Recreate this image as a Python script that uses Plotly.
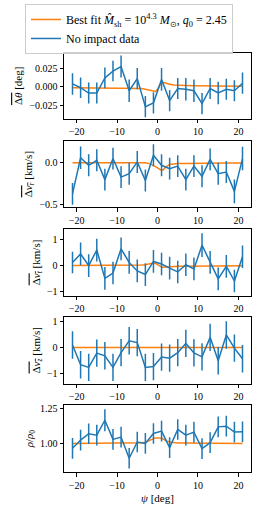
import plotly.graph_objects as go

# ---------------- data ----------------
psi = [-21, -19, -17, -15, -13, -11, -9, -7, -5, -3, -1, 1, 3, 5, 7, 9, 11, 13, 15, 17, 19, 21]

dtheta = [0.004, -0.001, -0.008, -0.008, 0.012, 0.021, 0.027, -0.005, 0.011, -0.026, -0.021,
          0.010, -0.018, -0.002, -0.003, -0.005, -0.022, -0.002, -0.008, -0.003, -0.005, 0.005]
dtheta_err = [0.0143, 0.0136, 0.014, 0.014, 0.0138, 0.0136, 0.0145, 0.015, 0.014, 0.014, 0.014,
              0.015, 0.014, 0.014, 0.015, 0.015, 0.014, 0.014, 0.015, 0.014, 0.014, 0.014]

dvr = [-0.37, 0.06, -0.03, 0.03, -0.20, 0.05, -0.17, -0.13, 0.01, -0.21, 0.09,
       -0.03, -0.07, -0.04, -0.20, -0.04, -0.16, 0.04, -0.13, -0.11, -0.34, 0.05]
dvr_err = [0.13, 0.134, 0.13, 0.13, 0.13, 0.13, 0.13, 0.13, 0.13, 0.13, 0.13,
           0.13, 0.13, 0.13, 0.13, 0.13, 0.13, 0.13, 0.13, 0.13, 0.14, 0.14]

dvt = [0.12, 0.45, 0.0, 0.60, -0.50, -0.29, 0.65, 0.12, -0.21, -0.35, 0.16,
       0.06, -0.10, -0.25, 0.03, -0.13, 0.79, 0.12, -0.52, -0.03, -0.60, 0.34]
dvt_err = [0.42, 0.44, 0.44, 0.44, 0.44, 0.44, 0.44, 0.44, 0.44, 0.44, 0.44,
           0.44, 0.44, 0.44, 0.44, 0.44, 0.46, 0.44, 0.44, 0.44, 0.44, 0.44]

dvz = [0.10, -0.65, -0.75, -0.21, -0.31, -0.75, -0.19, 0.26, 0.19, -0.75, -0.72,
       -0.36, -0.40, -0.19, 0.16, -0.20, -0.35, 0.39, -0.50, 0.48, -0.02, -0.42]
dvz_err = [0.52, 0.52, 0.52, 0.52, 0.52, 0.52, 0.52, 0.52, 0.52, 0.52, 0.52,
           0.52, 0.52, 0.52, 0.52, 0.52, 0.52, 0.52, 0.52, 0.52, 0.52, 0.52]

rho = [0.964, 1.024, 1.070, 1.060, 1.168, 1.029, 1.046, 0.892, 1.010, 1.000, 1.072,
       1.089, 0.969, 1.101, 1.060, 1.082, 0.962, 1.005, 1.120, 1.125, 1.082, 1.084]
rho_err = [0.075, 0.075, 0.075, 0.075, 0.08, 0.075, 0.075, 0.075, 0.075, 0.075, 0.075,
           0.075, 0.075, 0.075, 0.075, 0.075, 0.075, 0.075, 0.075, 0.075, 0.075, 0.075]

psi_fit = [-21, -17, -13, -9, -7, -5, -4, -3, -2, -1, -0.5, 0, 0.5, 1, 1.5, 2, 3, 4, 5, 7, 9, 13, 17, 21]
fit_dtheta = [-0.001, -0.001, -0.001, -0.001, -0.0012, -0.0015, -0.002, -0.003, -0.004, -0.0055, -0.006,
              -0.003, 0.002, 0.006, 0.006, 0.005, 0.0035, 0.0025, 0.002, 0.0018, 0.0015, 0.0012, 0.001, 0.001]
fit_dvr = [0.0, 0.0, 0.0, 0.0, 0.0, 0.0, 0.0, 0.0, -0.01, -0.03, -0.045, -0.06, -0.075, -0.09, -0.08,
           -0.05, -0.02, -0.012, -0.01, -0.008, -0.006, -0.005, -0.004, -0.004]
fit_dvt = [0.0, 0.0, 0.0, 0.0, 0.005, 0.01, 0.02, 0.03, 0.06, 0.1, 0.08, 0.03, -0.02, -0.06, -0.07,
           -0.06, -0.04, -0.03, -0.03, -0.025, -0.02, -0.015, -0.01, -0.01]
fit_dvz = [0.0] * 24
fit_rho = [1.0, 1.0, 1.0, 1.0, 1.0, 1.002, 1.004, 1.008, 1.02, 1.035, 1.04, 1.04, 1.04, 1.038, 1.03,
           1.02, 1.01, 1.005, 1.003, 1.002, 1.001, 1.0, 1.0, 1.0]

x_ticks = [-20, -10, 0, 10, 20]
x_ticktext = ["\u221220", "\u221210", "0", "10", "20"]

panels = [
    dict(y=dtheta, e=dtheta_err, fit=fit_dtheta, rng=[-0.0425, 0.0455],
         tv=[-0.025, 0.0, 0.025], tt=["\u22120.025", "0.000", "0.025"],
         title="<span style='text-decoration:overline'>\u0394<i>\u03b8</i></span> [deg]"),
    dict(y=dvr, e=dvr_err, fit=fit_dvr, rng=[-0.53, 0.26],
         tv=[-0.5, 0.0], tt=["\u22120.5", "0.0"],
         title="<span style='text-decoration:overline'>\u0394<i>v<sub>r</sub></i></span> [km/s]"),
    dict(y=dvt, e=dvt_err, fit=fit_dvt, rng=[-1.17, 1.41],
         tv=[-1, 0, 1], tt=["\u22121", "0", "1"],
         title="<span style='text-decoration:overline'>\u0394<i>v<sub>t</sub></i></span> [km/s]"),
    dict(y=dvz, e=dvz_err, fit=fit_dvz, rng=[-1.38, 1.18],
         tv=[-1, 0, 1], tt=["\u22121", "0", "1"],
         title="<span style='text-decoration:overline'>\u0394<i>v<sub>z</sub></i></span> [km/s]"),
    dict(y=rho, e=rho_err, fit=fit_rho, rng=[0.79, 1.28],
         tv=[1.0, 1.25], tt=["1.00", "1.25"],
         title="<i>\u03c1</i>/<i>\u03c1</i><sub>0</sub>"),
]

# panel pixel extents (top, bottom) in a 513 px tall figure
H = 513
tops = [52, 141, 230, 318, 407]
bots = [119, 208, 297, 386, 475]

BLUE = "#1f77b4"
ORANGE = "#ff7f0e"
FONT = "Liberation Serif"

fig = go.Figure()
layout = {}
for i, p in enumerate(panels):
    n = "" if i == 0 else str(i + 1)
    xa, ya = "x" + n, "y" + n
    fig.add_trace(go.Scatter(
        x=psi_fit, y=p["fit"], xaxis=xa, yaxis=ya, mode="lines",
        line=dict(color=ORANGE, width=1.5),
        name="Best fit <i>M\u0302</i><sub>sh</sub> = 10<sup>4.3</sup> <i>M</i><sub>\u2299</sub>, <i>q</i><sub>0</sub> = 2.45",
        showlegend=(i == 0)))
    fig.add_trace(go.Scatter(
        x=psi, y=p["y"], xaxis=xa, yaxis=ya, mode="lines",
        line=dict(color=BLUE, width=1.5),
        error_y=dict(type="data", array=p["e"], visible=True, color=BLUE, thickness=1.5, width=0),
        name="No impact data", showlegend=(i == 0)))
    common = dict(showline=True, linecolor="black", linewidth=0.8, mirror=True,
                  ticks="outside", ticklen=3.5, tickwidth=0.8, tickcolor="black",
                  showgrid=False, zeroline=False,
                  tickfont=dict(family=FONT, size=10, color="black"))
    xdef = dict(common, range=[-23.1, 23.1], tickvals=x_ticks, ticktext=x_ticktext,
                anchor=ya, domain=[0, 1])
    if i == 4:
        xdef["title"] = dict(text="<i>\u03c8</i> [deg]",
                             font=dict(family=FONT, size=11, color="black"), standoff=4)
    layout["xaxis" + n] = xdef
    layout["yaxis" + n] = dict(common, range=p["rng"], tickvals=p["tv"], ticktext=p["tt"],
                               anchor=xa,
                               domain=[1 - bots[i] / H, 1 - tops[i] / H],
                               title=dict(text=p["title"],
                                          font=dict(family=FONT, size=11, color="black"),
                                          standoff=4))

fig.update_layout(**layout)
fig.update_layout(
    width=260, height=513,
    margin=dict(l=64, r=9, t=0, b=0),
    plot_bgcolor="white", paper_bgcolor="white",
    font=dict(family=FONT, size=10, color="black"),
    legend=dict(x=-0.2086, y=1 - 3 / H, xanchor="left", yanchor="top",
                bgcolor="rgba(255,255,255,0.8)", bordercolor="#cccccc", borderwidth=1,
                font=dict(family=FONT, size=12, color="black"),
                tracegroupgap=0, itemwidth=30),
)

fig.write_html("out.html", config={"displayModeBar": False},
               post_script="document.body.style.margin='0';")
